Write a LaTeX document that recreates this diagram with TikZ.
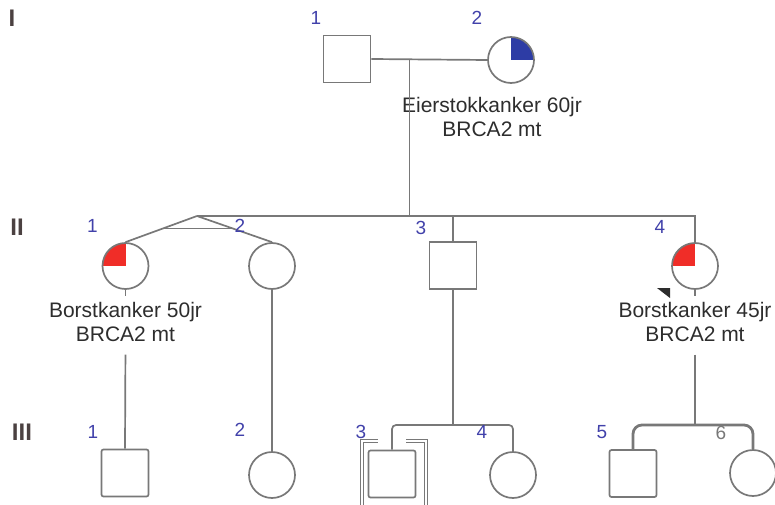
\documentclass[tikz,border=0pt]{standalone}
\usepackage{fontspec}
\setmainfont{Liberation Sans}
\usetikzlibrary{positioning, calc}
\definecolor{pedgray}{RGB}{120,120,120}
\definecolor{numblue}{RGB}{65,65,170}
\definecolor{ovblue}{RGB}{45,60,165}
\definecolor{bcred}{RGB}{240,45,40}
\definecolor{txtgray}{RGB}{45,45,45}
\definecolor{gengray}{RGB}{75,65,65}

\begin{document}
\begin{tikzpicture}[x=1pt, y=1pt,
  male/.style={rectangle, draw=pedgray, line width=1.7pt, fill=white,
               minimum size=47pt, inner sep=0pt},
  female/.style={circle, draw=pedgray, line width=1.7pt, fill=white,
                 minimum size=46pt, inner sep=0pt},
  bcq/.style={path picture={\fill[bcred] (path picture bounding box.center)
                rectangle (path picture bounding box.north west);}},
  ovq/.style={path picture={\fill[ovblue] (path picture bounding box.center)
                rectangle (path picture bounding box.north east);}},
  num/.style={font=\fontsize{19}{19}\selectfont, text=numblue, inner sep=0pt},
  gen/.style={font=\fontsize{24}{24}\selectfont\bfseries, text=gengray},
  info/.style={font=\fontsize{21}{24}\selectfont, text=txtgray,
               align=center, inner sep=1pt},
  ln/.style={draw=pedgray, line width=1.7pt}
]
  \useasboundingbox (0,0) rectangle (775,504);

  % generation I
  \node[male] (I1) at (347,445) {};
  \node[female, ovq] (I2) at (511,444) {};
  \coordinate (m1) at ($(I1.east)!0.33!(I2.west)$);
  \node[info, below=12pt of I2, xshift=-19pt] (t12) {Eierstokkanker 60jr\\BRCA2 mt};

  % generation II
  \coordinate (tw) at (197,288);
  \node[female, bcq] (II1) at (125.5,238) {};
  \node[female] (II2) at (272,238) {};
  \node[male] (II3) at (453,238.5) {};
  \node[female, bcq] (II4) at (695,238) {};
  \node[info, below=11pt of II1] (t21) {Borstkanker 50jr\\BRCA2 mt};
  \node[info, below=11pt of II4] (t24) {Borstkanker 45jr\\BRCA2 mt};

  % generation III
  \node[male, rounded corners=2pt] (III1) at (125,31) {};
  \node[female] (III2) at (272,29) {};
  \node[male, rounded corners=2pt] (III3) at (392,30) {};
  \node[female] (III4) at (513,29) {};
  \node[male, rounded corners=2pt] (III5) at (633,30.5) {};
  \node[female] (III6) at (753,31) {};
  \coordinate (s3) at (453,79);
  \coordinate (s4) at (t24.south |- s3);

  \node[gen] (gI)   at (12,486) {I};
  \node[gen] (gII)  at (17,277) {II};
  \node[gen] (gIII) at (22,72)  {III};

  % lines
  \draw[ln] (I1.east) -- (I2.west);
  \draw[ln] (m1) -- (m1 |- tw);
  \draw[ln] (tw) -- (tw -| II4) -- (II4.north);
  \draw[ln] (tw) -- (II1.north);
  \draw[ln] (tw) -- (II2.north);
  \draw[ln] ($(tw)!0.48!(II1.north)$) -- ($(tw)!0.48!(II2.north)$);
  \draw[ln] (II3.north) -- (II3 |- tw);
  \draw[ln, shorten >=5pt] (II1.south) -- (t21.north);
  \draw[ln, shorten <=12pt] (t21.south) -- (III1.north);
  \draw[ln] (II2.south) -- (III2.north);
  \draw[ln, shorten >=5pt] (II4.south) -- (t24.north);

  \draw[ln] (II3.south) -- (s3);
  \draw[ln, rounded corners=4pt] (III3.north) -- (III3 |- s3) -- (III4 |- s3) -- (III4.north);
  \draw[ln, line width=1pt, double=white, double distance=2pt]
    ([shift={(10,9)}]III3.north west) -- ([shift={(-6,9)}]III3.north west)
    -- ([shift={(-6,-8)}]III3.south west);
  \draw[ln, line width=1pt, double=white, double distance=2pt]
    ([shift={(-10,9)}]III3.north east) -- ([shift={(10,9)}]III3.north east)
    -- ([shift={(10,-8)}]III3.south east);

  \node[num, text=pedgray] (n36) at ([shift={(-32,40)}]III6.center) {6};
  \draw[ln, shorten <=12pt] (t24.south) -- (s4);
  \draw[ln, line width=2.8pt, rounded corners=9pt]
    (III5.north) -- (III5 |- s4) -- (III6 |- s4) -- (III6.north);

  % proband
  \fill[txtgray] ([shift={(-38,-22)}]II4.center) -- ++(13,0) -- ++(0,-10) -- cycle;

  % numbers
  \node[num] (n11) at ([shift={(-31,41)}]I1.center) {1};
  \node[num] (n12) at ([shift={(-34,42)}]I2.center) {2};
  \node[num] (n21) at ([shift={(-33,40)}]II1.center) {1};
  \node[num] (n22) at ([shift={(-32,40)}]II2.center) {2};
  \node[num] (n23) at ([shift={(-32,38)}]II3.center) {3};
  \node[num] (n24) at ([shift={(-35,39)}]II4.center) {4};
  \node[num] (n31) at ([shift={(-32,41)}]III1.center) {1};
  \node[num] (n32) at ([shift={(-32,45)}]III2.center) {2};
  \node[num] (n33) at ([shift={(-31,42)}]III3.center) {3};
  \node[num] (n34) at ([shift={(-31,43)}]III4.center) {4};
  \node[num] (n35) at ([shift={(-31,41)}]III5.center) {5};
\end{tikzpicture}
\end{document}
